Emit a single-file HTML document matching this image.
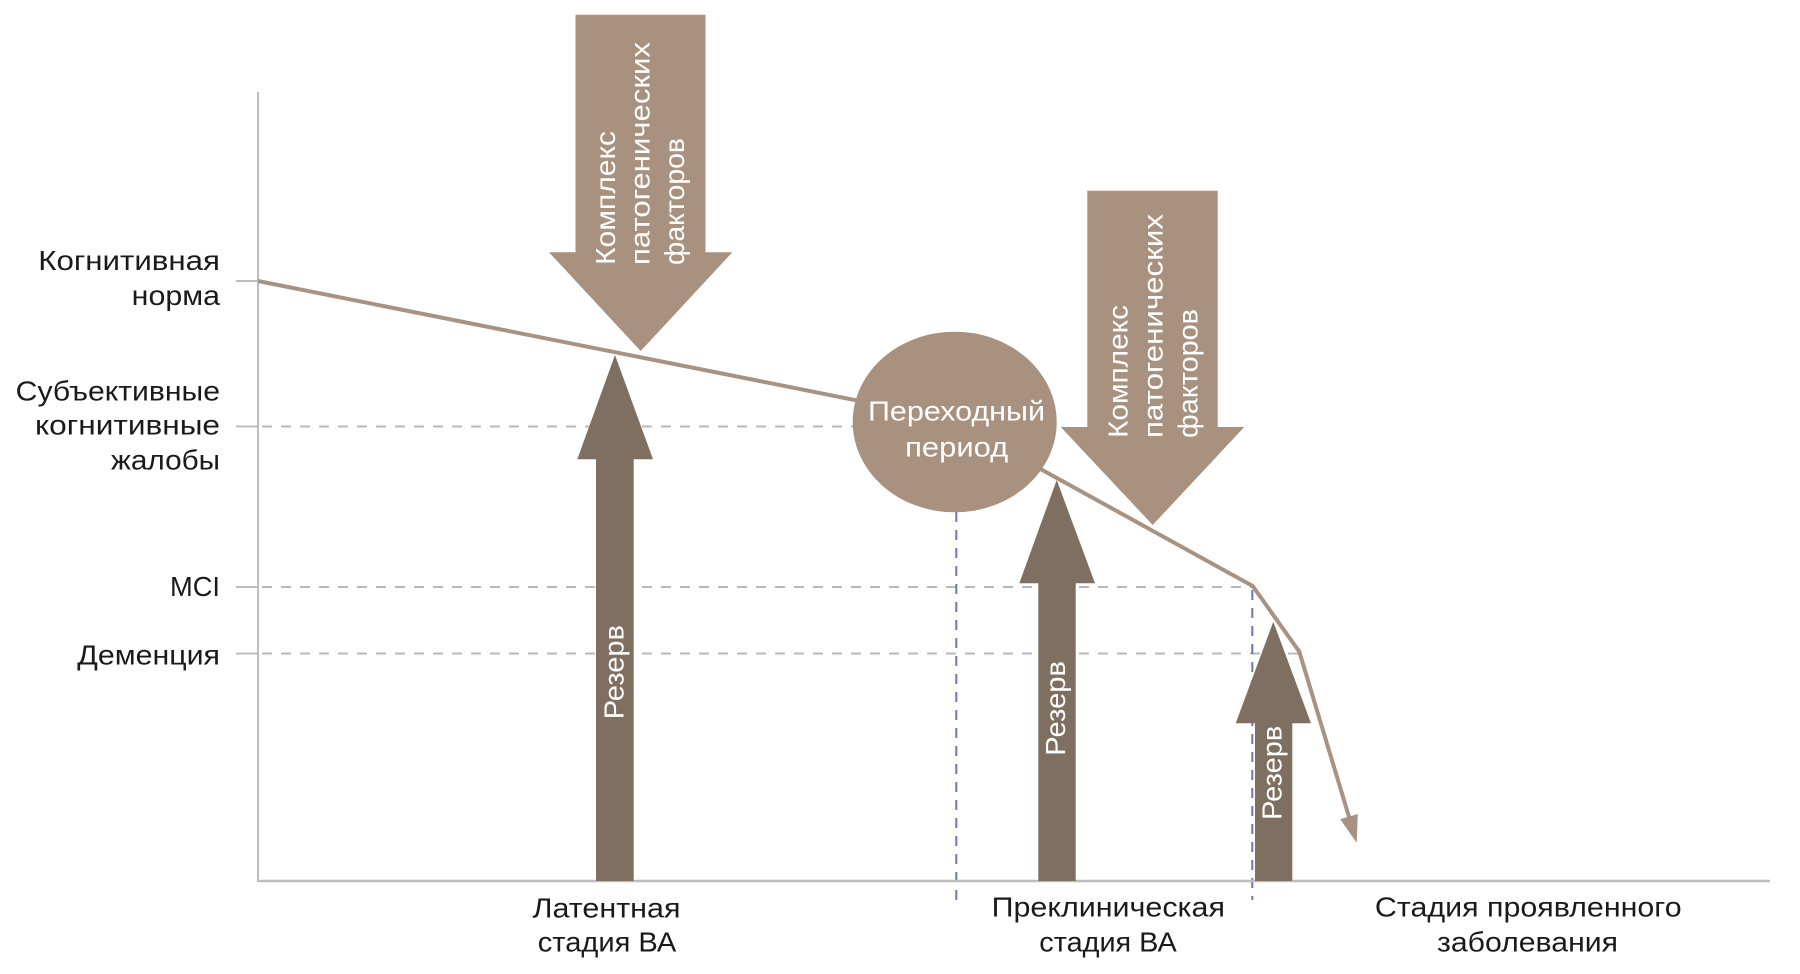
<!DOCTYPE html>
<html>
<head>
<meta charset="utf-8">
<style>
  html, body { margin: 0; padding: 0; background: #ffffff; }
  svg { display: block; }
  text { font-family: "Liberation Sans", "DejaVu Sans", sans-serif; font-size: 28px; }
  .lbl { fill: #1a1a1a; }
  .wt { fill: #ffffff; }
</style>
</head>
<body>
<svg width="1800" height="974" viewBox="0 0 1800 974" xmlns="http://www.w3.org/2000/svg">
  <rect x="0" y="0" width="1800" height="974" fill="#ffffff"/>

  <!-- grey dashed level lines -->
  <g stroke="#b8b8b8" stroke-width="2" stroke-dasharray="10 9" fill="none">
    <line x1="262" y1="426.5" x2="856" y2="426.5"/>
    <line x1="262" y1="587" x2="1252" y2="587"/>
    <line x1="262" y1="653.5" x2="1299" y2="653.5"/>
  </g>

  <!-- purple vertical dashed lines -->
  <g stroke="#7074b0" stroke-width="2" stroke-dasharray="10 8" fill="none">
    <line x1="956.3" y1="512" x2="956.3" y2="900"/>
    <line x1="1252.3" y1="590" x2="1252.3" y2="900"/>
  </g>

  <!-- axes -->
  <g stroke="#bdbdbd" fill="none">
    <line x1="258" y1="92" x2="258" y2="882" stroke-width="2"/>
    <line x1="257" y1="881" x2="1770" y2="881" stroke-width="2.5"/>
    <line x1="236" y1="281" x2="258" y2="281" stroke-width="2"/>
    <line x1="236" y1="426.5" x2="258" y2="426.5" stroke-width="2"/>
    <line x1="236" y1="587" x2="258" y2="587" stroke-width="2"/>
    <line x1="236" y1="653.5" x2="258" y2="653.5" stroke-width="2"/>
  </g>

  <!-- top (down-pointing) arrows -->
  <polygon fill="#a8927f" points="575.5,14.7 705.5,14.7 705.5,252.3 732.3,252.3 640.7,351 549,252.3 575.5,252.3"/>
  <polygon fill="#a8927f" points="1087.3,190.7 1217.7,190.7 1217.7,427 1244.3,427 1152.7,525 1060.7,427 1087.3,427"/>

  <!-- up arrows (reserve) -->
  <polygon fill="#7f6f60" points="596,881 633.7,881 633.7,459.3 653,459.3 615,355 577.3,459.3 596,459.3"/>
  <polygon fill="#7f6f60" points="1038.3,881 1075.7,881 1075.7,583.3 1095,583.3 1056.7,480 1019.3,583.3 1038.3,583.3"/>
  <polygon fill="#7f6f60" points="1255,881 1292.3,881 1292.3,723.3 1311,723.3 1273.3,621.7 1235.7,723.3 1255,723.3"/>

  <!-- main decline line -->
  <polyline fill="none" stroke="#a89281" stroke-width="4" stroke-linejoin="miter"
    points="258,281 955,420 1042.3,470 1252.7,586 1299.3,651.7 1349.5,818.5"/>
  <polygon fill="#a89281" points="1356.7,842.7 1357.8,814.0 1340.2,819.3"/>

  <!-- transitional period ellipse -->
  <ellipse cx="954.7" cy="422" rx="102" ry="90.3" fill="#a8927f"/>
  <text class="wt" x="956.5" y="420.7" text-anchor="middle" textLength="177" lengthAdjust="spacingAndGlyphs">Переходный</text>
  <text class="wt" x="956.7" y="456.7" text-anchor="middle" textLength="103" lengthAdjust="spacingAndGlyphs">период</text>

  <!-- rotated text in top arrow 1 -->
  <text class="wt" transform="translate(615,265) rotate(-90)" textLength="134" lengthAdjust="spacingAndGlyphs">Комплекс</text>
  <text class="wt" transform="translate(649.5,265) rotate(-90)" textLength="223" lengthAdjust="spacingAndGlyphs">патогенических</text>
  <text class="wt" transform="translate(684,265) rotate(-90)" textLength="127" lengthAdjust="spacingAndGlyphs">факторов</text>

  <!-- rotated text in top arrow 2 -->
  <text class="wt" transform="translate(1127.3,438) rotate(-90)" textLength="133" lengthAdjust="spacingAndGlyphs">Комплекс</text>
  <text class="wt" transform="translate(1162.5,438) rotate(-90)" textLength="224" lengthAdjust="spacingAndGlyphs">патогенических</text>
  <text class="wt" transform="translate(1197.3,438) rotate(-90)" textLength="129" lengthAdjust="spacingAndGlyphs">факторов</text>

  <!-- rotated "Резерв" -->
  <text class="wt" transform="translate(623.3,719.3) rotate(-90)" textLength="94.3" lengthAdjust="spacingAndGlyphs">Резерв</text>
  <text class="wt" transform="translate(1065,755.7) rotate(-90)" textLength="94.7" lengthAdjust="spacingAndGlyphs">Резерв</text>
  <text class="wt" transform="translate(1281.7,820) rotate(-90)" textLength="94.3" lengthAdjust="spacingAndGlyphs">Резерв</text>

  <!-- left labels -->
  <text class="lbl" x="220" y="270" text-anchor="end" textLength="181.7" lengthAdjust="spacingAndGlyphs">Когнитивная</text>
  <text class="lbl" x="220" y="305" text-anchor="end" textLength="88.3" lengthAdjust="spacingAndGlyphs">норма</text>
  <text class="lbl" x="220" y="400.5" text-anchor="end" textLength="204.3" lengthAdjust="spacingAndGlyphs">Субъективные</text>
  <text class="lbl" x="220" y="434.5" text-anchor="end" textLength="185" lengthAdjust="spacingAndGlyphs">когнитивные</text>
  <text class="lbl" x="220" y="469.3" text-anchor="end" textLength="109" lengthAdjust="spacingAndGlyphs">жалобы</text>
  <text class="lbl" x="220" y="596" text-anchor="end" textLength="50" lengthAdjust="spacingAndGlyphs">MCI</text>
  <text class="lbl" x="220" y="664.3" text-anchor="end" textLength="142.7" lengthAdjust="spacingAndGlyphs">Деменция</text>

  <!-- bottom labels -->
  <text class="lbl" x="606.5" y="917.5" text-anchor="middle" textLength="148" lengthAdjust="spacingAndGlyphs">Латентная</text>
  <text class="lbl" x="607" y="951.7" text-anchor="middle" textLength="138.5" lengthAdjust="spacingAndGlyphs">стадия ВА</text>
  <text class="lbl" x="1108.3" y="916.7" text-anchor="middle" textLength="233.3" lengthAdjust="spacingAndGlyphs">Преклиническая</text>
  <text class="lbl" x="1108" y="951.7" text-anchor="middle" textLength="137.4" lengthAdjust="spacingAndGlyphs">стадия ВА</text>
  <text class="lbl" x="1528.3" y="916.7" text-anchor="middle" textLength="306.7" lengthAdjust="spacingAndGlyphs">Стадия проявленного</text>
  <text class="lbl" x="1527.5" y="951.7" text-anchor="middle" textLength="181" lengthAdjust="spacingAndGlyphs">заболевания</text>
</svg>
</body>
</html>
